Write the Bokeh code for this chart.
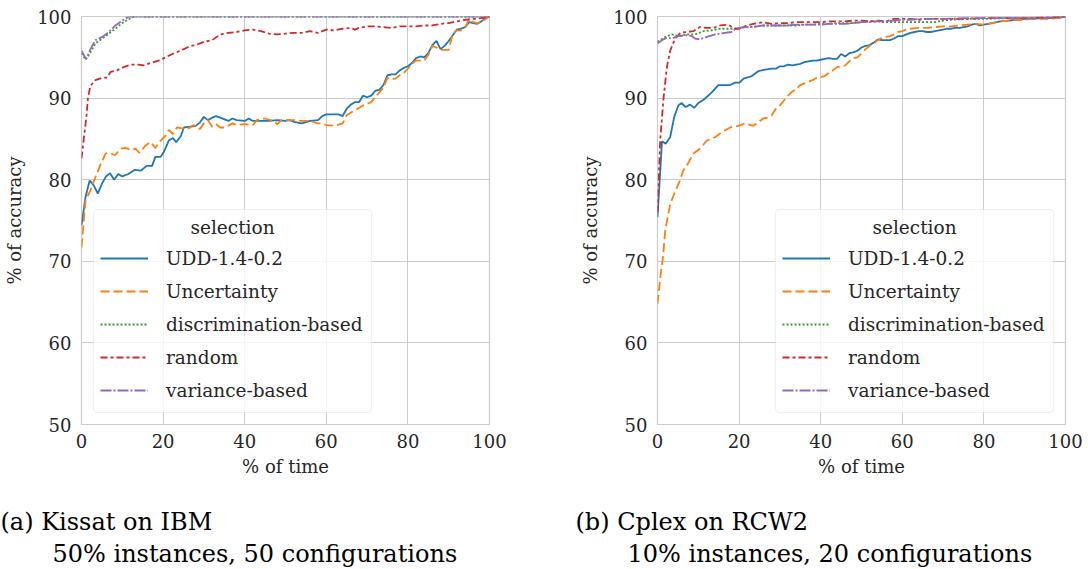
from bokeh.plotting import figure
from bokeh.layouts import column, row
from bokeh.models import Legend, LegendItem, Range1d, FixedTicker, Label, BoxAnnotation
from bokeh.embed import file_html
from bokeh.resources import INLINE

# ---------------- data ----------------
SERIES = ["UDD-1.4-0.2", "Uncertainty", "discrimination-based", "random", "variance-based"]
LEGEND_TITLE = "selection"

# (a) Kissat on IBM
a_udd_x = [0, 1, 2, 3, 4, 5, 6, 7, 8, 9, 10, 11.5, 13, 14.5, 16, 17.3, 18.1, 19.4, 20.2, 21.4,
           22.4, 23.2, 24.3, 25.1, 26.7, 28, 29, 30, 31, 32, 33, 34, 36, 37, 38, 40, 41, 42, 44, 46,
           48, 50, 51, 52, 54, 56, 58, 59, 60, 62, 63, 64, 65, 66, 67, 68, 69, 70, 71, 72,
           73, 74, 75, 76, 77, 78, 79, 80, 81, 82, 83, 84, 85, 86, 87, 88, 89, 90, 91, 92,
           93, 94, 95, 96, 97, 98, 99, 100]
a_udd_y = [74.4, 77.9, 79.9, 79.3, 78.3, 79.5, 80.4, 80.8, 80.0, 80.7, 80.4, 80.7, 81.2, 81.1, 81.7, 81.7, 82.8, 82.8, 83.4, 84.8,
           85.1, 84.6, 85.3, 86.4, 86.5, 86.6, 87.0, 87.7, 87.3, 87.6, 87.8, 87.6, 87.2, 87.5, 87.3, 87.2, 87.5, 87.2, 87.2, 87.2,
           87.3, 87.2, 87.3, 87.1, 86.9, 87.2, 87.3, 87.8, 88.0, 88.0, 88.0, 87.8, 88.7, 89.2, 89.5, 89.5, 90.3, 90.1, 90.3, 90.9,
           91.0, 91.6, 92.8, 92.9, 92.9, 93.4, 93.7, 93.9, 94.3, 94.9, 95.1, 95.0, 95.5, 96.5, 97.0, 96.0, 96.4, 97.0, 97.7, 98.4,
           98.5, 98.7, 99.3, 99.2, 99.1, 99.4, 99.8, 100]

a_unc_x = [0, 1, 2.2, 3.4, 4.7, 5.9, 6.9, 8.2, 9.6, 10.8, 12.3, 13.2, 14.2, 15.7, 16.9, 18.1, 19.4, 20.6, 21.4, 22.4,
           23.4, 24.7, 26.3, 27.5, 29, 30, 31, 32, 33, 34, 35, 36, 37, 38, 40, 42, 43, 45, 47, 48,
           49, 50, 52, 54, 56, 58, 59, 60, 62, 64, 65, 67, 69, 71, 72, 73, 74, 75, 76, 77,
           78, 79, 80, 81, 82, 83, 84, 85, 86, 87, 88, 89, 90, 91, 92, 93, 94, 95, 96, 97,
           98, 99, 100]
a_unc_y = [71.7, 77.5, 78.7, 80.3, 81.9, 83.2, 83.3, 83.0, 83.8, 83.9, 83.6, 83.8, 83.3, 84.2, 84.6, 83.9, 84.8, 85.4, 86.1, 85.6,
           86.4, 86.3, 86.3, 86.7, 86.2, 86.9, 87.3, 86.5, 86.8, 86.4, 86.4, 86.6, 86.9, 86.7, 86.8, 86.7, 87.3, 87.5, 87.2, 86.8,
           87.3, 87.3, 87.3, 87.2, 87.2, 86.9, 86.9, 86.7, 86.6, 86.9, 87.9, 88.5, 89.1, 89.5, 90.1, 90.7, 91.3, 92.5, 92.3, 92.4,
           92.8, 93.1, 93.6, 94.2, 94.6, 94.6, 94.6, 95.3, 96.4, 96.2, 95.9, 95.9, 95.9, 97.9, 98.3, 98.3, 98.6, 99.7, 99.3, 99.2,
           99.3, 99.7, 100]

a_dis_x = [0, 1, 2.2, 3.4, 5.1, 6.7, 8.3, 10, 12, 13, 20, 40, 60, 80, 100]
a_dis_y = [95.5, 94.7, 95.6, 96.7, 97.3, 97.9, 98.5, 99.2, 99.8, 100, 100, 100, 100, 100, 100]

a_ran_x = [0, 0.6, 1.2, 1.6, 2.2, 3.4, 5.1, 6.3, 7.1, 8.7, 10.3, 12, 14, 15.2, 16.9, 18.9, 20.6, 22.7, 24.7, 26.7,
           28, 30, 32, 34, 36, 38, 40, 42, 44, 46, 48, 50, 52, 54, 56, 58, 60, 62, 64, 66,
           67, 68, 70, 72, 74, 76, 78, 80, 82, 84, 86, 88, 90, 92, 94, 96, 98, 100]
a_ran_y = [82.6, 85.2, 87.7, 90.1, 91.5, 92.2, 92.5, 92.5, 93.2, 93.4, 93.8, 94.1, 94.1, 94.0, 94.3, 94.6, 95.0, 95.5, 95.9, 96.4,
           96.5, 96.9, 97.1, 97.8, 98.0, 98.1, 98.3, 98.4, 98.2, 97.9, 97.8, 97.9, 98.0, 98.0, 98.2, 98.0, 98.4, 98.3, 98.5, 98.6,
           98.4, 98.6, 98.8, 98.8, 98.7, 98.6, 98.8, 98.8, 98.8, 98.9, 98.9, 99.1, 99.2, 99.4, 99.6, 99.7, 99.8, 100]

a_var_x = [0, 1.1, 2.2, 3.4, 5.1, 6.7, 8.3, 10, 11.6, 20, 40, 60, 80, 100]
a_var_y = [95.8, 94.8, 96.0, 97.1, 97.5, 98.1, 98.9, 99.5, 100, 100, 100, 100, 100, 100]

# (b) Cplex on RCW2
b_udd_x = [0, 1.1, 2, 3.1, 4.1, 5.1, 5.9, 6.9, 8, 9, 10, 11.3, 13.3, 14.9, 17.8, 19, 20.1, 21.1, 23.1, 24.7,
           26.4, 28, 29, 30, 31, 32, 33, 34, 35, 36, 37, 38, 39, 40, 41, 42, 43, 44, 45, 46,
           47, 48, 49, 50, 51, 52, 53, 54, 55, 56, 57, 58, 59, 60, 61, 62, 63, 64, 65, 66,
           67, 68, 69, 70, 71, 72, 73, 74, 75, 76, 77, 78, 79, 80, 82, 84, 86, 88, 90, 92,
           94, 96, 98, 100]
b_udd_y = [75.4, 84.7, 84.4, 85.2, 87.7, 89.1, 89.4, 88.9, 89.2, 88.8, 89.4, 89.8, 90.7, 91.6, 91.6, 91.9, 91.9, 92.4, 92.7, 93.3,
           93.5, 93.6, 93.6, 93.9, 93.9, 94.1, 94.0, 94.1, 94.2, 94.4, 94.5, 94.6, 94.6, 94.7, 94.8, 94.9, 94.8, 94.8, 95.4, 95.1,
           95.5, 95.6, 95.8, 96.2, 96.4, 96.5, 96.8, 97.2, 97.1, 97.1, 97.1, 97.3, 97.6, 97.6, 97.8, 98.0, 98.1, 98.2, 98.2, 98.1,
           98.1, 98.2, 98.3, 98.4, 98.5, 98.5, 98.6, 98.6, 98.7, 98.8, 99.0, 99.1, 98.9, 99.0, 99.2, 99.4, 99.5, 99.6, 99.7, 99.7,
           99.8, 99.8, 99.8, 100]

b_unc_x = [0, 0.8, 1.3, 1.9, 3.1, 4.3, 5.5, 6.3, 7.6, 8.8, 10.4, 12.1, 14.1, 15.7, 17.8, 19.8, 21.4, 23.5, 25.9, 27,
           28, 29, 30, 31, 32, 33, 34, 35, 36, 37, 38, 39, 40, 41, 42, 43, 44, 45, 46, 47,
           48, 49, 50, 51, 52, 53, 54, 55, 56, 57, 58, 59, 60, 61, 62, 64, 66, 68, 70, 72,
           74, 76, 78, 80, 82, 84, 86, 88, 90, 92, 94, 96, 98, 100]
b_unc_y = [64.8, 68.5, 70.3, 73.8, 77.0, 78.5, 79.9, 81.1, 82.1, 83.2, 83.8, 84.8, 85.2, 85.8, 86.4, 86.6, 86.9, 86.6, 87.5, 87.6,
           87.9, 88.7, 89.1, 89.7, 90.3, 90.8, 91.1, 91.6, 91.8, 92.0, 92.2, 92.5, 92.6, 92.7, 93.1, 93.4, 93.8, 93.9, 94.0, 94.5,
           94.9, 95.0, 95.5, 96.0, 96.4, 96.7, 97.1, 97.4, 97.5, 97.6, 97.8, 98.1, 98.2, 98.4, 98.5, 98.6, 98.6, 98.7, 98.8, 98.8,
           98.9, 99.0, 99.1, 99.0, 99.2, 99.4, 99.5, 99.6, 99.6, 99.7, 99.7, 99.7, 99.8, 100]

b_dis_x = [0, 1.9, 3.5, 5.1, 7.2, 9.2, 11.3, 13.3, 15.3, 18.6, 20.1, 22.7, 25.9, 28, 30, 32, 34, 36, 38, 40,
           42, 44, 46, 48, 50, 52, 54, 56, 58, 60, 62, 64, 66, 68, 70, 72, 76, 80, 85, 90,
           95, 100]
b_dis_y = [96.9, 97.5, 97.8, 97.6, 97.8, 97.8, 98.2, 98.3, 98.5, 98.5, 98.6, 98.7, 98.9, 98.9, 98.9, 98.9, 98.9, 99.0, 99.0, 99.1,
           99.1, 99.2, 99.2, 99.2, 99.3, 99.4, 99.4, 99.3, 99.3, 99.3, 99.3, 99.3, 99.3, 99.3, 99.5, 99.6, 99.7, 99.7, 99.8, 99.8,
           99.8, 100]

b_ran_x = [0, 0.65, 1.5, 2.3, 3.1, 4.3, 5.6, 7.2, 8.8, 10.4, 12, 13.7, 15.3, 17.3, 18.9, 20.1, 21.8, 23.5, 25.9, 28,
           30, 32, 34, 36, 38, 40, 42, 44, 46, 48, 50, 52, 54, 56, 58, 60, 62, 64, 66, 68,
           70, 75, 80, 85, 90, 95, 100]
b_ran_y = [76.0, 84.8, 90.1, 93.8, 95.8, 97.3, 98.0, 98.1, 98.2, 98.7, 98.6, 98.6, 98.9, 99.0, 98.5, 98.5, 98.9, 99.1, 99.3, 99.1,
           99.2, 99.2, 99.3, 99.3, 99.3, 99.3, 99.4, 99.4, 99.4, 99.5, 99.5, 99.4, 99.5, 99.4, 99.7, 99.7, 99.7, 99.6, 99.7, 99.7,
           99.7, 99.7, 99.8, 99.8, 99.8, 99.9, 100]

b_var_x = [0, 1.1, 2.3, 3.5, 5.1, 7.2, 8.4, 9.2, 10.4, 12.1, 14.1, 16.5, 18.1, 19.2, 21, 23.5, 25.9, 28, 30, 32,
           34, 36, 38, 40, 42, 44, 46, 48, 50, 52, 54, 56, 58, 60, 62, 64, 66, 68, 70, 75,
           80, 85, 90, 95, 100]
b_var_y = [96.7, 97.1, 97.4, 97.3, 97.6, 97.7, 97.6, 97.3, 97.2, 97.5, 97.8, 98.0, 98.1, 98.5, 98.7, 98.7, 98.9, 98.9, 98.9, 98.9,
           99.0, 99.0, 99.0, 99.0, 99.1, 99.1, 99.1, 99.2, 99.3, 99.3, 99.4, 99.4, 99.5, 99.6, 99.6, 99.7, 99.7, 99.7, 99.7, 99.8,
           99.8, 99.8, 99.8, 99.8, 100]

x_ticks = [0, 20, 40, 60, 80, 100]
y_ticks = [50, 60, 70, 80, 90, 100]

captions_a = ["(a) Kissat on IBM", "50% instances, 50 configurations"]
captions_b = ["(b) Cplex on RCW2", "10% instances, 20 configurations"]

# ---------------- style ----------------
COLORS = ["#1f77b4", "#ff7f0e", "#2ca02c", "#d62728", "#9467bd"]
DASHES = ["solid", "9 4", "2 2", "7 3 3 3", "11 2 2 2"]
FONT = "DejaVu Serif"
TXT = "#262626"
GRID = "#cccccc"


def make_fig(series, width, bl, br):
    p = figure(width=width, height=490, x_range=Range1d(0, 100), y_range=Range1d(50, 100),
               output_backend="svg", toolbar_location=None,
               min_border_left=bl, min_border_right=br, min_border_top=16, min_border_bottom=66,
               x_axis_label="% of time", y_axis_label="% of accuracy")
    p.background_fill_color = "white"
    p.border_fill_color = "white"
    p.outline_line_color = GRID
    p.outline_line_width = 1.2
    p.xaxis.ticker = FixedTicker(ticks=x_ticks)
    p.yaxis.ticker = FixedTicker(ticks=y_ticks)
    p.grid.grid_line_color = GRID
    p.grid.grid_line_width = 1
    for ax in (p.xaxis[0], p.yaxis[0]):
        ax.axis_line_color = None
        ax.major_tick_line_color = None
        ax.minor_tick_line_color = None
        ax.major_tick_out = 0
        ax.major_tick_in = 0
        ax.major_label_text_font = FONT
        ax.major_label_text_font_size = "18px"
        ax.major_label_text_color = TXT
        ax.axis_label_text_font = FONT
        ax.axis_label_text_font_size = "18px"
        ax.axis_label_text_font_style = "normal"
        ax.axis_label_text_color = TXT
    p.xaxis.major_label_standoff = 9
    p.xaxis.axis_label_standoff = 5
    p.yaxis.major_label_standoff = 10
    p.yaxis.axis_label_standoff = 9

    items = []
    for name, (xs, ys), c, d in zip(SERIES, series, COLORS, DASHES):
        r = p.line(xs, ys, line_color=c, line_width=1.8, line_dash=d)
        items.append(LegendItem(label=name, renderers=[r]))
    return p, items


def add_legend(p, items, x_off, box_l, box_r):
    # legend frame (semi-transparent white, light grey rounded border)
    p.add_layout(BoxAnnotation(left=box_l, right=box_r, bottom=51.47, top=76.35,
                               fill_color="white", fill_alpha=0.8,
                               line_color=GRID, line_width=1.2, border_radius=4))
    leg = Legend(items=items, location=(x_off, 21))
    leg.label_text_font = FONT
    leg.label_text_font_size = "18.5px"
    leg.label_text_color = TXT
    leg.glyph_width = 48
    leg.glyph_height = 26
    leg.label_height = 26
    leg.label_standoff = 18
    leg.spacing = 7
    leg.padding = 9
    leg.margin = 0
    leg.border_line_color = None
    leg.background_fill_alpha = 0
    p.add_layout(leg, "center")
    # centred legend title
    p.add_layout(Label(x=(box_l + box_r) / 2, y=74.1, text=LEGEND_TITLE, text_font=FONT,
                       text_font_size="18.5px", text_color=TXT,
                       text_align="center", text_baseline="middle"))


pa, ia = make_fig([(a_udd_x, a_udd_y), (a_unc_x, a_unc_y), (a_dis_x, a_dis_y),
                   (a_ran_x, a_ran_y), (a_var_x, a_var_y)], 540, 81, 51)
add_legend(pa, ia, 19, 2.94, 71.1)
pb, ib = make_fig([(b_udd_x, b_udd_y), (b_unc_x, b_unc_y), (b_dis_x, b_dis_y),
                   (b_ran_x, b_ran_y), (b_var_x, b_var_y)], 548, 117, 23)
add_legend(pb, ib, 125, 28.9, 97.1)

# caption strip
cap = figure(width=1088, height=79, x_range=Range1d(0, 1088), y_range=Range1d(0, 79),
             output_backend="svg", toolbar_location=None, min_border=0,
             x_axis_type=None, y_axis_type=None)
cap.grid.visible = False
cap.outline_line_color = None
cap.background_fill_color = "white"
cap.border_fill_color = "white"
for (txt1, txt2), x0 in ((captions_a, 0), (captions_b, 575)):
    cap.add_layout(Label(x=x0, y=48, text=txt1, text_font=FONT, text_font_size="24px",
                         text_color="black", text_baseline="middle", text_align="left"))
    cap.add_layout(Label(x=x0 + 52, y=16, text=txt2, text_font=FONT, text_font_size="24px",
                         text_color="black", text_baseline="middle", text_align="left"))

layout = column(row(pa, pb), cap)
open("out.html", "w").write(file_html(layout, INLINE))
